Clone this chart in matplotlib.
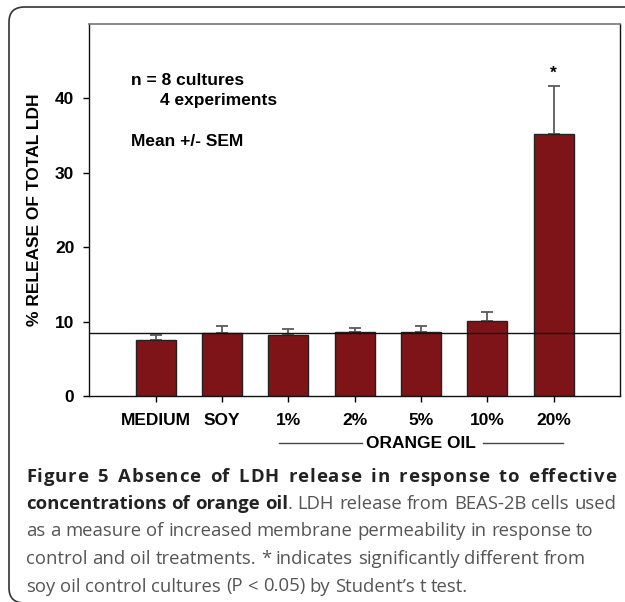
import matplotlib
matplotlib.use('Agg')
import matplotlib.pyplot as plt
from matplotlib.patches import FancyBboxPatch
from matplotlib.lines import Line2D

# data
groups = ['MEDIUM', 'SOY', '1%', '2%', '5%', '10%', '20%']
mean_ldh = [7.5, 8.5, 8.2, 8.55, 8.65, 10.1, 35.2]
sem_ldh = [0.7, 0.85, 0.75, 0.65, 0.7, 1.15, 6.4]
soy_level = 8.5
yticks = [0, 10, 20, 30, 40]

# caption lines: text (** marks bold), how to justify ('chars', 'words' or None)
caption = [
    ('**Figure 5 Absence of LDH release in response to effective**', 'chars'),
    ('**concentrations of orange oil**. LDH release from BEAS-2B cells used', 'words'),
    ('as a measure of increased membrane permeability in response to', None),
    ('control and oil treatments. * indicates significantly different from', None),
    ("soy oil control cultures (P < 0.05) by Student\u2019s t test.", None),
]

W, H = 625, 602
fig = plt.figure(figsize=(W / 100, H / 100), dpi=100)


def px(x, y):
    # pixel coords (from top-left) -> figure fraction
    return x / W, 1 - y / H


# rounded outer frame, open to the right / bottom
frame = FancyBboxPatch(px(9, 603), 700 / W, (603 - 7) / H,
                       boxstyle='round,pad=0,rounding_size=0.025',
                       transform=fig.transFigure, fill=False,
                       edgecolor='#333333', linewidth=1.2)
fig.patches.append(frame)

ax_l, ax_r, ax_t, ax_b = 89.3, 620, 24, 396
ax = fig.add_axes([ax_l / W, 1 - ax_b / H, (ax_r - ax_l) / W, (ax_b - ax_t) / H])

plt.rcParams['font.family'] = 'Liberation Sans'
bold = dict(family='Liberation Sans', weight='bold', size=12.5)

xpos = list(range(1, len(groups) + 1))
ax.bar(xpos, mean_ldh, width=0.6, color='#7f1418', edgecolor='#222222',
       linewidth=1.0, zorder=2)
eb = ax.errorbar(xpos, mean_ldh, yerr=[[0] * len(sem_ldh), sem_ldh], fmt='none',
                 ecolor='#5a5a5a', elinewidth=1.3, capsize=4.2, capthick=1.3,
                 zorder=1)
for cl in eb[1]:
    cl.set_color('#111111')
ax.axhline(soy_level, color='#111111', linewidth=1.0, zorder=3)

ax.set_xlim(0, 8)
ax.set_ylim(0, 50)
ax.set_xticks(xpos)
ax.set_xticklabels(groups, fontdict=bold)
ax.set_yticks(yticks)
ax.set_yticklabels([str(v) for v in yticks], fontdict=bold)
ax.tick_params(axis='x', direction='out', length=4.5, width=1, pad=8)
ax.tick_params(axis='y', direction='out', length=4.3, width=1, pad=6.5)
for s in ['left', 'bottom', 'right']:
    ax.spines[s].set_color('#111111')
    ax.spines[s].set_linewidth(1.0)
ax.spines['top'].set_color('#777777')
ax.spines['top'].set_linewidth(1.2)

ax.text(7, 42.8, '*', ha='center', va='baseline', **bold)
ax.text(0.078, 0.836, 'n = 8 cultures', transform=ax.transAxes, ha='left', va='baseline', **bold)
ax.text(0.134, 0.781, '4 experiments', transform=ax.transAxes, ha='left', va='baseline', **bold)
ax.text(0.078, 0.671, 'Mean +/- SEM', transform=ax.transAxes, ha='left', va='baseline', **bold)

fig.text(*px(34.5, 210), '% RELEASE OF TOTAL LDH', rotation=90, ha='center', va='center', **bold)
fig.text(*px(421, 443.5), 'ORANGE OIL', ha='center', va='center', **bold)
for xa, xb in [(279, 362), (483, 563)]:
    fig.add_artist(Line2D([xa / W, xb / W], [1 - 442.7 / H] * 2, transform=fig.transFigure,
                          color='#444444', linewidth=1.0))

# caption, placed piece by piece so the first lines can be justified
renderer = fig.canvas.get_renderer()
cap_size = 13.3
cap_x0, cap_x1 = 26, 616
baselines = [481.5, 509, 536.5, 564, 591.5]


def parse(line):
    words = [[]]
    for i, chunk in enumerate(line.split('**')):
        is_bold = i % 2 == 1
        for j, p in enumerate(chunk.split(' ')):
            if j > 0:
                words.append([])
            if p:
                words[-1].append((p, is_bold))
    return [w for w in words if w]


def style(is_bold):
    return dict(family='Open Sans', size=cap_size,
                weight='bold' if is_bold else 'normal',
                color='#222222' if is_bold else '#555555')


def width(s, is_bold):
    t = fig.text(0, 0, s, **style(is_bold))
    wd = t.get_window_extent(renderer).width
    t.remove()
    return wd


space_w = width('x x', False) - width('xx', False)

for (line, mode), yb in zip(caption, baselines):
    words = parse(line)
    if mode == 'chars':
        # spread the line by letter spacing, word gaps get a bigger share
        text = ' '.join(p for w in words for p, _ in w)
        natural = width(text, True)
        nsp = text.count(' ')
        extra = (cap_x1 - cap_x0 - natural) / (len(text) - 1 + 4 * nsp)
        for k, ch in enumerate(text):
            if ch == ' ':
                continue
            start = width(text[:k + 1], True) - width(ch, True)
            units = k + 4 * text[:k].count(' ')
            fig.text(*px(cap_x0 + start + units * extra, yb), ch, ha='left',
                     va='baseline', **style(True))
        continue
    placed = []
    total = 0
    for w in words:
        pieces = []
        ww = 0
        for s, b in w:
            pieces.append((s, b, ww))
            ww += width(s, b)
        placed.append((pieces, ww))
        total += ww
    gap = (cap_x1 - cap_x0 - total) / (len(words) - 1) if mode else space_w
    x = cap_x0
    for pieces, ww in placed:
        for s, b, off in pieces:
            fig.text(*px(x + off, yb), s, ha='left', va='baseline', **style(b))
        x += ww + gap

fig.savefig('out.png', dpi=100)
